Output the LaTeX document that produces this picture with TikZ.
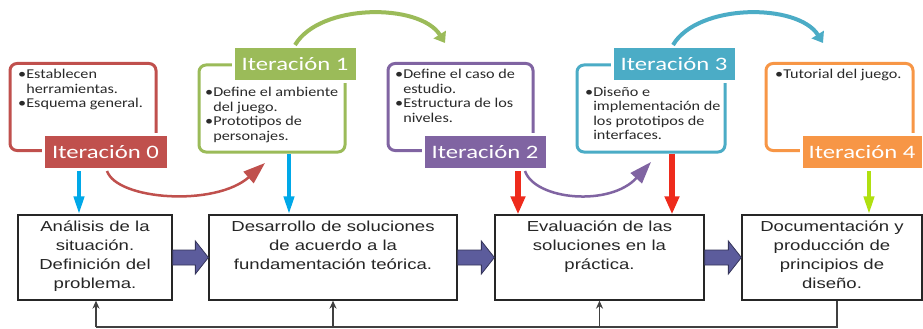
\documentclass[tikz,border=0pt]{standalone}
\usepackage{fontspec}
\setmainfont{Carlito}
\newfontfamily\labelfont[FakeStretch=1.3]{Carlito}
\newfontfamily\bulletfont[FakeStretch=1.2]{Carlito}
\newfontfamily\arialf[FakeStretch=1.28]{Liberation Sans}
\usetikzlibrary{arrows.meta,calc}
\definecolor{cRed}{HTML}{C0504D}
\definecolor{cGreen}{HTML}{9BBB59}
\definecolor{cPurple}{HTML}{8064A2}
\definecolor{cTeal}{HTML}{4BACC6}
\definecolor{cOrange}{HTML}{F79646}
\definecolor{cBlue}{HTML}{00A8E8}
\definecolor{cBrightRed}{HTML}{EE2B1C}
\definecolor{cLime}{HTML}{B0E010}
\definecolor{cFat}{HTML}{5C5C9C}
\definecolor{cFatLine}{HTML}{35355A}
\definecolor{cText}{HTML}{2A2A2A}
\begin{document}
\begin{tikzpicture}[x=1pt,y=-1pt,
  frame/.style={draw=#1,line width=3pt,rounded corners=7pt,minimum height=87pt,minimum width=146pt,inner sep=0pt},
  iterlabel/.style={fill=#1,draw=white,line width=3pt,minimum width=125pt,minimum height=35pt,inner sep=0pt,
    text=white,font=\labelfont\fontsize{19}{19}\selectfont},
  bullets/.style={anchor=north west,inner sep=0pt,align=left,text=cText,
    font=\bulletfont\fontsize{13.5}{14.5}\selectfont},
  stagebox/.style={draw=black!85,line width=1.3pt,minimum height=85pt,inner sep=0pt},
  stagetext/.style={anchor=north,inner sep=0pt,align=center,text=black!85,
    font=\arialf\fontsize{14.5}{19}\selectfont},
  downarr/.style={draw=#1,line width=4pt,-{Triangle[length=18pt,width=10pt]}},
  bigdown/.style={draw=#1,line width=6pt,-{Triangle[length=18pt,width=14pt]}},
  toparc/.style={draw=#1,line width=4pt,-{Triangle[length=10pt,width=14pt]}},
  lowarc/.style={draw=#1,line width=2.5pt,-{Triangle[length=22pt,width=15pt]}},
  fatarr/.style={fill=cFat,draw=cFatLine,line width=0.8pt},
  fbline/.style={draw=black!75,line width=1.5pt},
  fbarr/.style={draw=black!75,line width=1.5pt,-{Stealth[length=8pt,width=7pt]}}
]
\useasboundingbox[fill=white] (0,0) rectangle (923,329);

% top frames
\node[frame=cRed] (F0) at (83,107) {};
\node[frame=cGreen] (F1) at (272,108.5) {};
\node[frame=cPurple,minimum width=145pt] (F2) at (460.5,107) {};
\node[frame=cTeal,minimum width=148pt] (F3) at (651,108.5) {};
\node[frame=cOrange,minimum width=147pt] (F4) at (839.5,107) {};

% bullet texts
\node[bullets] (T0) at (18,69) {•Establecen\\\hphantom{•}herramientas.\\•Esquema general.};
\node[bullets] (T1) at (205,87) {•Define el ambiente\\\hphantom{•}del juego.\\•Prototipos de\\\hphantom{•}personajes.};
\node[bullets] (T2) at (395,69) {•Define el caso de\\\hphantom{•}estudio.\\•Estructura de los\\\hphantom{•}niveles.};
\node[bullets] (T3) at (585,87) {•Diseño e\\\hphantom{•}implementación de\\\hphantom{•}los prototipos de\\\hphantom{•}interfaces.};
\node[bullets] (T4) at (775,69) {•Tutorial del juego.};

% iteration labels
\node[iterlabel=cRed] (L0) at (105.5,152) {Iteración 0};
\node[iterlabel=cGreen,minimum width=124pt] (L1) at (295,64) {Iteración 1};
\node[iterlabel=cPurple,minimum width=124pt] (L2) at (485,152) {Iteración 2};
\node[iterlabel=cTeal,minimum width=124pt] (L3) at (674,64) {Iteración 3};
\node[iterlabel=cOrange,minimum width=122pt] (L4) at (862,152) {Iteración 4};

% bottom stage boxes
\node[stagebox,minimum width=154pt] (A) at (95,257.5) {};
\node[stagebox,minimum width=248pt] (B) at (333,257.5) {};
\node[stagebox,minimum width=209pt] (C) at (599.5,257.5) {};
\node[stagebox,minimum width=180pt] (D) at (832,257.5) {};
\node[stagetext] (At) at ([yshift=-6pt]A.north) {Análisis de la\\situación.\\Definición del\\problema.};
\node[stagetext] (Bt) at ([yshift=-6pt]B.north) {Desarrollo de soluciones\\de acuerdo a la\\fundamentación teórica.};
\node[stagetext] (Ct) at ([yshift=-6pt]C.north) {Evaluación de las\\soluciones en la\\práctica.};
\node[stagetext] (Dt) at ([yshift=-6pt]D.north) {Documentación y\\producción de\\principios de\\diseño.};

% arcs on top
\coordinate (g1) at (445,43);
\coordinate (t1) at (823,43);
\draw[toparc=cGreen] (L1.north) .. controls ([xshift=25pt,yshift=42pt]L1.north) and ([xshift=125pt,yshift=42pt]L1.north) .. (g1);
\draw[toparc=cTeal] ([xshift=-1pt]L3.north) .. controls ([xshift=24pt,yshift=42pt]L3.north) and ([xshift=124pt,yshift=42pt]L3.north) .. (t1);

% arcs below
\coordinate (r1) at (265,163);
\coordinate (p1) at (651,162);
\draw[lowarc=cRed] ([xshift=1.5pt]L0.south) .. controls (117,200) and (215,207) .. (r1);
\draw[lowarc=cPurple] ([xshift=40pt]L2.south) .. controls (535,200) and (610,207) .. (p1);

% down arrows
\draw[downarr=cBlue] ([xshift=-26.5pt]L0.south) -- ([xshift=-26.5pt]L0.south |- A.north);
\draw[downarr=cBlue] ([xshift=17pt]F1.south) -- ([xshift=17pt]F1.south |- B.north);
\draw[bigdown=cBrightRed] ([xshift=33pt]L2.south) -- ([xshift=33pt]L2.south |- C.north);
\draw[bigdown=cBrightRed] ([xshift=21pt]F3.south) -- ([xshift=21pt]F3.south |- C.north);
\draw[downarr=cLime] ([xshift=7pt]L4.south) -- ([xshift=7pt]L4.south |- D.north);

% fat arrows between stages
\foreach \s/\t in {A/B,B/C,C/D}{
  \filldraw[fatarr] ([yshift=-7.5pt]\s.east) -- ([xshift=-13pt,yshift=-7.5pt]\t.west)
    -- ([xshift=-13pt,yshift=-16.5pt]\t.west) -- (\t.west)
    -- ([xshift=-13pt,yshift=16.5pt]\t.west) -- ([xshift=-13pt,yshift=7.5pt]\t.west)
    -- ([yshift=7.5pt]\s.east) -- cycle;
}

% feedback line
\coordinate (fbL) at (96,327);
\draw[fbline] ([xshift=5pt]D.south) |- (fbL);
\draw[fbarr] (fbL) -- (fbL |- A.south);
\draw[fbarr] (B.south |- fbL) -- (B.south);
\draw[fbarr] (C.south |- fbL) -- (C.south);
\end{tikzpicture}
\end{document}
